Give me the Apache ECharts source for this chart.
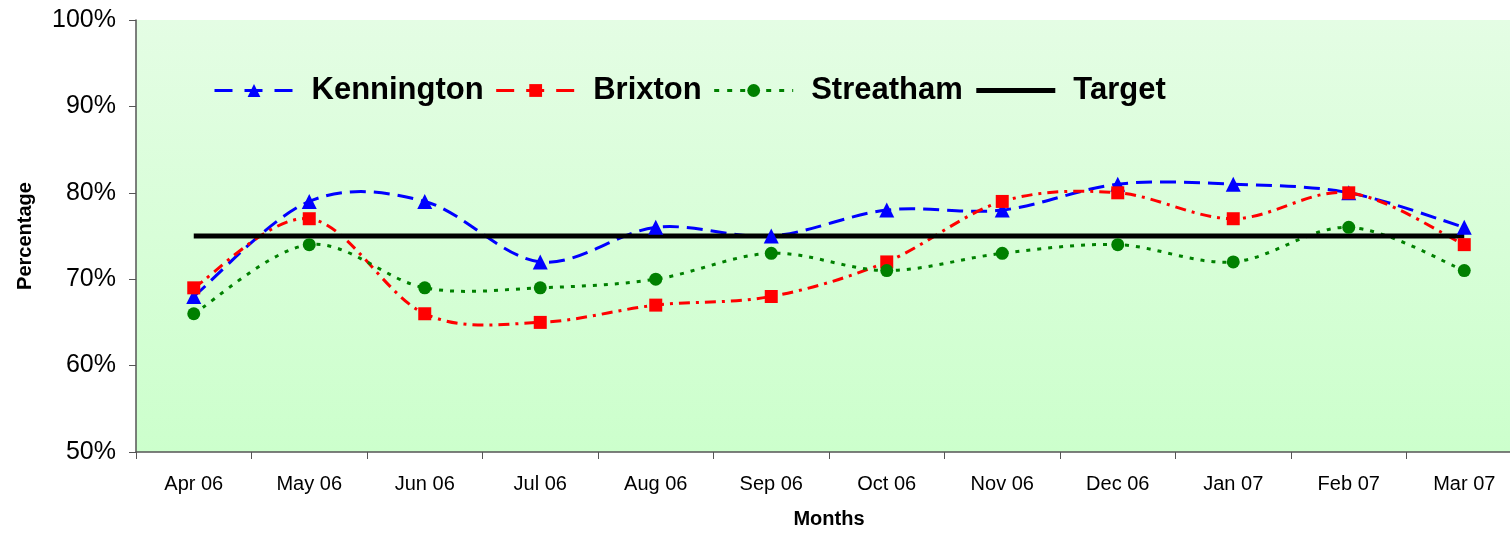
<!DOCTYPE html>
<html><head><meta charset="utf-8">
<script src="https://cdn.jsdelivr.net/npm/echarts@6/dist/echarts.min.js"></script>
<style>html,body{margin:0;padding:0;background:#fff}#wrap{width:1510px;height:534px;overflow:hidden;position:relative}#c{width:1522px;height:534px;position:absolute;left:0;top:0}</style>
</head><body><div id="wrap"><div id="c"></div></div>
<script>
const months = ['Apr 06','May 06','Jun 06','Jul 06','Aug 06','Sep 06','Oct 06','Nov 06','Dec 06','Jan 07','Feb 07','Mar 07'];
const kennington = [68,79,79,72,76,75,78,78,81,81,80,76];
const brixton    = [69,77,66,65,67,68,72,79,80,77,80,74];
const streatham  = [66,74,69,69,70,73,71,73,74,72,76,71];
const target     = [75,75,75,75,75,75,75,75,75,75,75,75];

const F = 'Liberation Sans, Arial, sans-serif';
const STY = {
  Kennington:{color:'#0000ff', dash:[16,8]},
  Brixton:{color:'#ff0000', dash:[11,6,3,6]},
  Streatham:{color:'#008000', dash:[4,7]}
};

// Excel-like smoothed curve (Catmull-Rom -> Bezier) computed through the axes' scales
function curveSeries(name, values){
  const s = STY[name];
  return {
    type:'custom', coordinateSystem:'cartesian2d', silent:true, z:2,
    data: values.map((v,i)=>[i,v]),
    encode:{x:0,y:1},
    renderItem:function(params, api){
      if (params.dataIndex !== 0) return null;
      const p = values.map((v,i)=>api.coord([i,v]));
      const n = p.length;
      let d = 'M' + p[0][0] + ' ' + p[0][1];
      for (let i=0;i<n-1;i++){
        const p0 = p[Math.max(i-1,0)], p1 = p[i], p2 = p[i+1], p3 = p[Math.min(i+2,n-1)];
        const c1x = p1[0] + (p2[0]-p0[0])/6, c1y = p1[1] + (p2[1]-p0[1])/6;
        const c2x = p2[0] - (p3[0]-p1[0])/6, c2y = p2[1] - (p3[1]-p1[1])/6;
        d += ' C' + c1x + ' ' + c1y + ' ' + c2x + ' ' + c2y + ' ' + p2[0] + ' ' + p2[1];
      }
      return {type:'path', shape:{pathData:d}, style:{fill:'none', stroke:s.color, lineWidth:3, lineDash:s.dash}};
    }
  };
}
function markerSeries(name, values, symbol, size){
  const s = STY[name];
  return {name:name, type:'line', data:values, symbol:symbol, symbolSize:size, z:4,
    itemStyle:{color:s.color}, lineStyle:{color:s.color, width:3, type:s.dash, opacity:0}};
}

const chart = echarts.init(document.getElementById('c'));
chart.setOption({
  animation:false,
  grid:{left:136,right:0,top:20,bottom:79,show:true,borderWidth:0,
    backgroundColor:new echarts.graphic.LinearGradient(0,0,0,1,[{offset:0,color:'#e4fde4'},{offset:1,color:'#ccffcc'}])},
  legend:{left:208,top:70,itemWidth:79,itemHeight:16,itemGap:11,
    textStyle:{fontFamily:F,fontSize:31,fontWeight:'bold',color:'#000',padding:[0,0,0,13]},
    data:[
      {name:'Kennington', lineStyle:{opacity:1,width:3,color:'#0000ff',type:[18,12]}},
      {name:'Brixton', lineStyle:{opacity:1,width:3,color:'#ff0000',type:[18,12]}},
      {name:'Streatham', lineStyle:{opacity:1,width:3,color:'#008000',type:[5,8]}},
      {name:'Target', itemStyle:{opacity:0}, lineStyle:{opacity:1,width:5,color:'#000',type:'solid'}}
    ]},
  xAxis:{type:'category',data:months,boundaryGap:true,
    axisLine:{lineStyle:{color:'#555',width:1.5}},
    axisTick:{show:true,length:7,lineStyle:{color:'#555'}},
    axisLabel:{fontFamily:F,fontSize:20,color:'#000',margin:22},
    name:'Months',nameLocation:'middle',nameGap:57,
    nameTextStyle:{fontFamily:F,fontSize:20,fontWeight:'bold',color:'#000'}},
  yAxis:{type:'value',min:50,max:100,interval:10,
    axisLine:{show:true,lineStyle:{color:'#555',width:1.5}},
    axisTick:{show:true,length:7,lineStyle:{color:'#555'}},
    splitLine:{show:false},
    axisLabel:{fontFamily:F,fontSize:25,color:'#000',margin:20,formatter:'{value}%'},
    name:'Percentage',nameLocation:'middle',nameGap:101,
    nameTextStyle:{fontFamily:F,fontSize:20,fontWeight:'bold',color:'#000'}},
  series:[
    curveSeries('Kennington', kennington),
    curveSeries('Brixton', brixton),
    curveSeries('Streatham', streatham),
    {name:'Target',type:'line',data:target,symbol:'none',z:3,
      itemStyle:{color:'#000'},lineStyle:{color:'#000',width:5}},
    markerSeries('Kennington', kennington, 'triangle', 15),
    markerSeries('Brixton', brixton, 'rect', 13),
    markerSeries('Streatham', streatham, 'circle', 13)
  ]
});
</script></body></html>
